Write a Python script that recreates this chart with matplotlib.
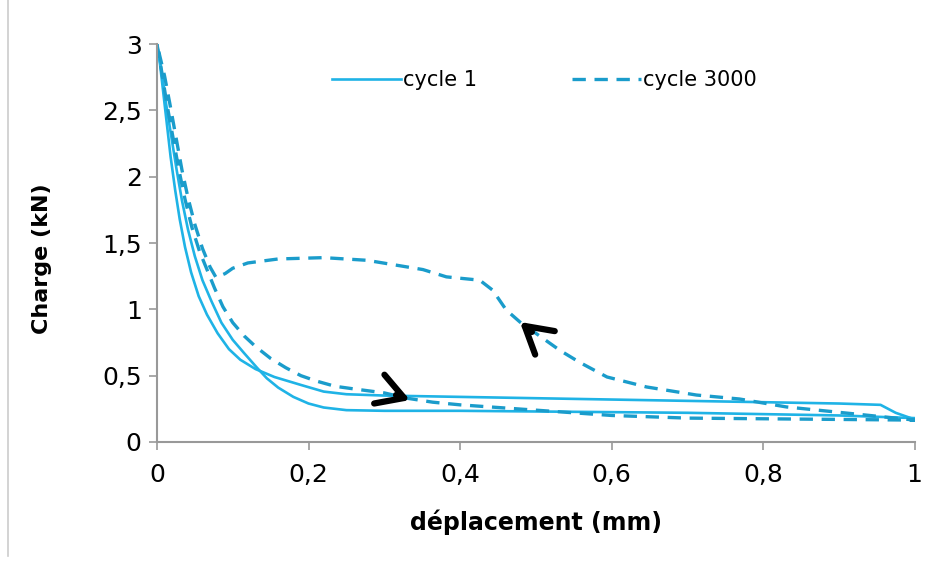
import matplotlib
matplotlib.use("Agg")
import matplotlib.pyplot as plt
from matplotlib.lines import Line2D

# cycle 1 : deux branches
c1_up_x = [0, 0.004, 0.008, 0.013, 0.018, 0.024, 0.03, 0.037, 0.045, 0.055, 0.066,
           0.08, 0.095, 0.11, 0.13, 0.155, 0.19, 0.22, 0.25, 0.3, 0.4, 0.5, 0.6,
           0.7, 0.8, 0.9, 0.955, 0.975, 1.0]
c1_up_y = [3.0, 2.85, 2.65, 2.4, 2.15, 1.9, 1.68, 1.47, 1.28, 1.1, 0.96,
           0.82, 0.7, 0.62, 0.55, 0.49, 0.43, 0.38, 0.36, 0.35, 0.34, 0.33, 0.32,
           0.31, 0.30, 0.29, 0.28, 0.22, 0.17]
c1_lo_x = [0, 0.006, 0.012, 0.019, 0.026, 0.033, 0.041, 0.05, 0.06, 0.072, 0.085,
           0.1, 0.115, 0.132, 0.145, 0.16, 0.18, 0.2, 0.22, 0.25, 0.3, 0.4, 0.5,
           0.6, 0.7, 0.8, 0.9, 1.0]
c1_lo_y = [3.0, 2.8, 2.55, 2.3, 2.05, 1.82, 1.6, 1.4, 1.22, 1.06, 0.9,
           0.77, 0.67, 0.56, 0.48, 0.41, 0.34, 0.29, 0.26, 0.24, 0.235, 0.235, 0.23,
           0.225, 0.22, 0.21, 0.2, 0.18]

# cycle 3000 : boucle complète (chargement puis retour)
c3000_x = [0, 0.006, 0.013, 0.021, 0.029, 0.037, 0.046, 0.056, 0.066, 0.076, 0.087,
           0.1, 0.115, 0.13, 0.15, 0.17, 0.19, 0.21, 0.235, 0.26, 0.3, 0.33, 0.364,
           0.4, 0.45, 0.5, 0.55, 0.6, 0.7, 0.8, 0.9, 1.0,
           0.91, 0.831, 0.769, 0.712, 0.646, 0.594, 0.558, 0.532, 0.479, 0.461,
           0.443, 0.426, 0.382, 0.351, 0.277, 0.22, 0.16, 0.12, 0.1, 0.09, 0.078,
           0.07, 0.06, 0.05, 0.041, 0.033, 0.025, 0.017, 0.01, 0]
c3000_y = [3.0, 2.8, 2.55, 2.3, 2.05, 1.83, 1.62, 1.44, 1.3, 1.16, 1.02,
           0.9, 0.8, 0.72, 0.63, 0.56, 0.5, 0.46, 0.42, 0.4, 0.37, 0.33, 0.3,
           0.28, 0.26, 0.24, 0.22, 0.2, 0.18, 0.175, 0.17, 0.165,
           0.218, 0.264, 0.324, 0.354, 0.415, 0.49, 0.6, 0.69, 0.905, 0.995,
           1.145, 1.22, 1.245, 1.3, 1.37, 1.39, 1.38, 1.35, 1.31, 1.27, 1.24,
           1.32, 1.46, 1.64, 1.84, 2.05, 2.3, 2.55, 2.76, 3.0]

# flèches : pointe (données) et queue (décalage en pixels)
arrow_tips = [(0.334, 0.316), (0.479, 0.905)]
arrow_tails = [(-14, 5), (12, -10)]

x_ticks = [0, 0.2, 0.4, 0.6, 0.8, 1]
x_labels = ["0", "0,2", "0,4", "0,6", "0,8", "1"]
y_ticks = [0, 0.5, 1, 1.5, 2, 2.5, 3]
y_labels = ["0", "0,5", "1", "1,5", "2", "2,5", "3"]

plt.rcParams["font.family"] = ["DejaVu Sans"]

fig = plt.figure(figsize=(9.4, 5.7), dpi=100)
ax = fig.add_axes([0.167, 0.2246, 0.806, 0.698])

solid_col = "#1fb3e6"
dash_col = "#1a9ccb"

ax.plot(c1_up_x, c1_up_y, color=solid_col, lw=1.9, label="cycle 1")
ax.plot(c1_lo_x, c1_lo_y, color=solid_col, lw=1.9)
ax.plot(c3000_x, c3000_y, color=dash_col, lw=2.4, linestyle=(0, (4, 2.6)),
        label="cycle 3000")

for tip, tail in zip(arrow_tips, arrow_tails):
    ax.annotate("", xy=tip, xytext=tail, textcoords="offset pixels",
                arrowprops=dict(arrowstyle="->,head_length=0.95,head_width=0.55",
                                color="black", lw=4.5, mutation_scale=20,
                                shrinkA=0, shrinkB=0, capstyle="round",
                                joinstyle="round"))

ax.set_xlim(0, 1)
ax.set_ylim(0, 3)
ax.set_xticks(x_ticks)
ax.set_xticklabels(x_labels)
ax.set_yticks(y_ticks)
ax.set_yticklabels(y_labels)
ax.tick_params(labelsize=18, colors="#999999", labelcolor="black", length=6,
               width=1.2)
ax.tick_params(axis="x", pad=9)
ax.tick_params(axis="y", pad=5)

for side in ["top", "right"]:
    ax.spines[side].set_visible(False)
for side in ["left", "bottom"]:
    ax.spines[side].set_color("#999999")
    ax.spines[side].set_linewidth(1.5)

ax.set_xlabel("déplacement (mm)", fontsize=17, fontweight="bold")
ax.set_ylabel("Charge (kN)", fontsize=16, fontweight="bold")
ax.xaxis.set_label_coords(0.5, -0.17)
ax.yaxis.set_label_coords(-0.138, 0.46)

ax.legend(loc="center left", bbox_to_anchor=(0.333, 0.86), bbox_transform=fig.transFigure,
          ncol=2, frameon=False, fontsize=15, handlelength=3.3, handletextpad=0.1,
          columnspacing=4.6)

fig.add_artist(Line2D([0.0085, 0.0085], [0.025, 1.0], color="#cccccc", lw=1.2))

fig.savefig("out.png", dpi=100)
